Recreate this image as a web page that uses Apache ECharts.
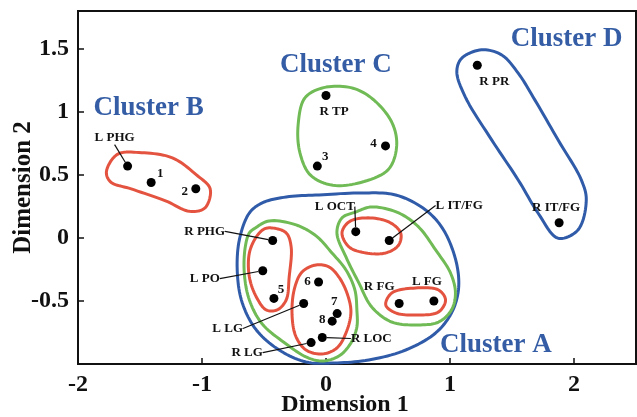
<!DOCTYPE html>
<html><head><meta charset="utf-8">
<script src="https://cdn.jsdelivr.net/npm/echarts@6/dist/echarts.min.js"></script>
<style>html,body{margin:0;padding:0;background:#fff}#c{width:637px;height:417px}</style>
</head><body><div id="c"></div>
<script>
// ---- data ----
const xTickValues = [-2, -1, 0, 1, 2];
const yTickValues = [-0.5, 0, 0.5, 1, 1.5];

const pointNames = ['L PHG','1','2','R TP','3','4','R PR','R IT/FG','L OCT','L IT/FG','R PHG','L PO','5','6','L LG','7','8','R LOC','R LG','R FG','L FG'];
const pointX = [-1.60,-1.41,-1.05, 0.00,-0.07, 0.48, 1.22, 1.88, 0.24, 0.51,-0.43,-0.51,-0.42,-0.06,-0.18, 0.09, 0.05,-0.03,-0.12, 0.59, 0.87];
const pointY = [ 0.57, 0.44, 0.39, 1.13, 0.57, 0.73, 1.37, 0.12, 0.05,-0.02,-0.02,-0.26,-0.48,-0.35,-0.52,-0.60,-0.66,-0.79,-0.83,-0.52,-0.50];

const clusterNames = ['Cluster A', 'Cluster B', 'Cluster C', 'Cluster D'];
const clusterLabelX = [1.37, -1.43, 0.08, 1.94];
const clusterLabelY = [-0.85, 1.03, 1.37, 1.58];

// hand-drawn cluster outlines (data coordinates)
const outlineA = [[-0.056,0.341],[0.289,0.357],[0.562,0.341],[0.803,0.222],[0.948,0.063],[1.052,-0.198],[1.068,-0.413],[1.012,-0.595],[0.884,-0.754],[0.643,-0.889],[0.345,-0.968],[0.064,-0.992],[-0.161,-0.984],[-0.378,-0.889],[-0.562,-0.730],[-0.675,-0.516],[-0.715,-0.278],[-0.699,-0.016],[-0.618,0.198],[-0.514,0.278],[-0.321,0.325]];
const outlineAGreenLeft = [[-0.570,0.079],[-0.458,0.135],[-0.241,0.103],[-0.080,0.016],[0.048,-0.119],[0.161,-0.254],[0.233,-0.413],[0.249,-0.571],[0.249,-0.706],[0.201,-0.833],[0.104,-0.937],[-0.032,-0.976],[-0.161,-0.944],[-0.321,-0.841],[-0.514,-0.683],[-0.618,-0.492],[-0.659,-0.278],[-0.651,-0.071],[-0.618,0.040]];
const outlineAGreenRight = [[0.129,0.159],[0.241,0.206],[0.369,0.246],[0.586,0.198],[0.747,0.087],[0.884,-0.095],[1.004,-0.278],[1.044,-0.437],[1.012,-0.571],[0.908,-0.667],[0.747,-0.690],[0.530,-0.667],[0.369,-0.548],[0.265,-0.357],[0.161,-0.151],[0.088,0.040]];
const outlineARedOct = [[0.129,0.040],[0.185,0.127],[0.321,0.159],[0.506,0.127],[0.602,0.040],[0.586,-0.056],[0.482,-0.119],[0.321,-0.119],[0.185,-0.071]];
const outlineARedFg = [[0.482,-0.532],[0.530,-0.437],[0.723,-0.397],[0.908,-0.413],[0.964,-0.492],[0.908,-0.587],[0.723,-0.611],[0.562,-0.595]];
const outlineARedLeft = [[-0.434,0.079],[-0.321,0.040],[-0.281,-0.071],[-0.297,-0.310],[-0.321,-0.492],[-0.394,-0.571],[-0.482,-0.571],[-0.562,-0.468],[-0.618,-0.310],[-0.618,-0.119],[-0.562,0.008],[-0.498,0.071]];
const outlineARedMid = [[-0.080,-0.214],[0.024,-0.230],[0.104,-0.310],[0.169,-0.437],[0.201,-0.587],[0.161,-0.754],[0.088,-0.873],[-0.032,-0.921],[-0.161,-0.889],[-0.241,-0.786],[-0.273,-0.627],[-0.257,-0.413],[-0.193,-0.270]];
const outlineB = [[-1.771,0.524],[-1.682,0.663],[-1.488,0.676],[-1.239,0.635],[-1.045,0.5],[-0.934,0.389],[-0.976,0.238],[-1.10,0.211],[-1.294,0.294],[-1.571,0.389],[-1.737,0.444]];
const outlineC = [[-0.019,1.192],[-0.170,1.111],[-0.225,0.894],[-0.211,0.678],[-0.129,0.502],[0.035,0.421],[0.255,0.434],[0.502,0.542],[0.570,0.732],[0.529,0.921],[0.365,1.111],[0.2,1.192]];
const outlineD = [[1.255,1.492],[1.095,1.426],[1.055,1.320],[1.122,1.121],[1.336,0.778],[1.550,0.46],[1.711,0.196],[1.871,-0.002],[2.032,0.063],[2.099,0.302],[2.059,0.46],[1.871,0.778],[1.684,1.095],[1.550,1.307],[1.416,1.452]];

// ---- styles ----
const RED = '#e4533f', GREEN = '#70bb55', BLUE = '#2f5ba8', TXTBLUE = '#345da5';
const FONT = '"Liberation Serif","Times New Roman",serif';
const outlines = [
  {pts: outlineA, color: BLUE},
  {pts: outlineAGreenLeft, color: GREEN},
  {pts: outlineAGreenRight, color: GREEN},
  {pts: outlineARedOct, color: RED},
  {pts: outlineARedFg, color: RED},
  {pts: outlineARedLeft, color: RED},
  {pts: outlineARedMid, color: RED},
  {pts: outlineB, color: RED},
  {pts: outlineC, color: GREEN},
  {pts: outlineD, color: BLUE}
];
// label offsets in pixels [dx, dy, leaderLine]
const labelOffsets = {
  'L PHG': [-13, -28, true], '1': [9, -9, false], '2': [-11, 3, false],
  'R TP': [8, 16, false], '3': [8, -9, false], '4': [-12, -2, false],
  'R PR': [17, 16, false], 'R IT/FG': [-3, -15, false],
  'L OCT': [-21, -25, true], 'L IT/FG': [70, -35, true],
  'R PHG': [-68, -9, true], 'L PO': [-58, 8, true], '5': [7, -9, false],
  '6': [-11, 0, false], 'L LG': [-76, 25, true], '7': [-3, -12, false],
  '8': [-10, -1, false], 'R LOC': [49, 1, true], 'R LG': [-64, 10, true],
  'R FG': [-20, -17, false], 'L FG': [-7, -19, false]
};

// closed centripetal Catmull-Rom through the projected outline points (rendering only)
function closedCurve(pts, seg) {
  const n = pts.length, out = [];
  const d = (a, b) => Math.pow(Math.hypot(b[0] - a[0], b[1] - a[1]), 0.5) || 1e-6;
  const lerp = (a, b, ta, tb, t) => [
    (tb - t) / (tb - ta) * a[0] + (t - ta) / (tb - ta) * b[0],
    (tb - t) / (tb - ta) * a[1] + (t - ta) / (tb - ta) * b[1]
  ];
  for (let i = 0; i < n; i++) {
    const p0 = pts[(i - 1 + n) % n], p1 = pts[i], p2 = pts[(i + 1) % n], p3 = pts[(i + 2) % n];
    const t0 = 0, t1 = t0 + d(p0, p1), t2 = t1 + d(p1, p2), t3 = t2 + d(p2, p3);
    for (let k = 0; k < seg; k++) {
      const t = t1 + (t2 - t1) * k / seg;
      const A1 = lerp(p0, p1, t0, t1, t), A2 = lerp(p1, p2, t1, t2, t), A3 = lerp(p2, p3, t2, t3, t);
      const B1 = lerp(A1, A2, t0, t2, t), B2 = lerp(A2, A3, t1, t3, t);
      out.push(lerp(B1, B2, t1, t2, t));
    }
  }
  return out;
}

const pointData = pointNames.map((n, i) => ({
  name: n,
  value: [pointX[i], pointY[i]],
  labelLine: {show: labelOffsets[n][2]}
}));
const clusterData = clusterNames.map((n, i) => ({name: n, value: [clusterLabelX[i], clusterLabelY[i]]}));

const chart = echarts.init(document.getElementById('c'), null, {renderer: 'canvas'});
chart.setOption({
  animation: false,
  backgroundColor: '#fff',
  grid: {left: 78, right: 1, top: 11, bottom: 53, containLabel: false, outerBoundsMode: 'none',
         show: true, borderColor: '#111', borderWidth: 2, backgroundColor: 'transparent'},
  xAxis: {
    type: 'value', min: -2, max: 2.5,
    name: 'Dimension 1', nameLocation: 'middle', nameGap: 29, nameMoveOverlap: false,
    nameTextStyle: {fontFamily: FONT, fontWeight: 'bold', fontSize: 24, color: '#111', padding: [0, 24, 0, 0]},
    axisLine: {show: true, onZero: false, lineStyle: {color: '#111', width: 2}},
    axisTick: {show: true, inside: true, length: 6, customValues: xTickValues, lineStyle: {color: '#111', width: 1.5}},
    axisLabel: {customValues: xTickValues, fontFamily: FONT, fontWeight: 'bold', fontSize: 24, color: '#111', margin: 9},
    splitLine: {show: false}
  },
  yAxis: {
    type: 'value', min: -1, max: 1.8,
    name: 'Dimension 2', nameLocation: 'middle', nameGap: 42, nameRotate: 90, nameMoveOverlap: false,
    nameTextStyle: {fontFamily: FONT, fontWeight: 'bold', fontSize: 25, color: '#111'},
    axisLine: {show: true, onZero: false, lineStyle: {color: '#111', width: 2}},
    axisTick: {show: true, inside: true, length: 6, customValues: yTickValues, lineStyle: {color: '#111', width: 1.5}},
    axisLabel: {customValues: yTickValues, fontFamily: FONT, fontWeight: 'bold', fontSize: 24, color: '#111', margin: 9},
    splitLine: {show: false}
  },
  series: [
    {
      type: 'custom',
      silent: true,
      clip: false,
      z: 1,
      data: outlines.map(o => o.pts[0]),
      encode: {x: 0, y: 1},
      renderItem: function (params, api) {
        const o = outlines[params.dataIndex];
        const pts = closedCurve(o.pts.map(p => api.coord(p)), 10);
        return {
          type: 'polygon',
          shape: {points: pts},
          style: {fill: 'none', stroke: o.color, lineWidth: 3, lineJoin: 'round'}
        };
      }
    },
    {
      type: 'scatter',
      z: 3,
      symbol: 'circle',
      symbolSize: 9,
      itemStyle: {color: '#000', opacity: 1},
      data: pointData,
      label: {
        show: true, position: 'inside', formatter: '{b}',
        fontFamily: FONT, fontWeight: 'bold', fontSize: 13, color: '#111', opacity: 1
      },
      labelLine: {show: false, lineStyle: {color: '#111', width: 1.2, opacity: 1}},
      labelLayout: function (params) {
        const off = labelOffsets[pointNames[params.dataIndex]];
        return {dx: off[0], dy: off[1]};
      }
    },
    {
      type: 'scatter',
      z: 4,
      symbolSize: 0,
      silent: true,
      itemStyle: {opacity: 1},
      data: clusterData,
      label: {
        show: true, position: 'inside', formatter: '{b}', opacity: 1,
        fontFamily: FONT, fontWeight: 'bold', fontSize: 27, color: TXTBLUE
      }
    }
  ]
});
</script>
</body></html>
